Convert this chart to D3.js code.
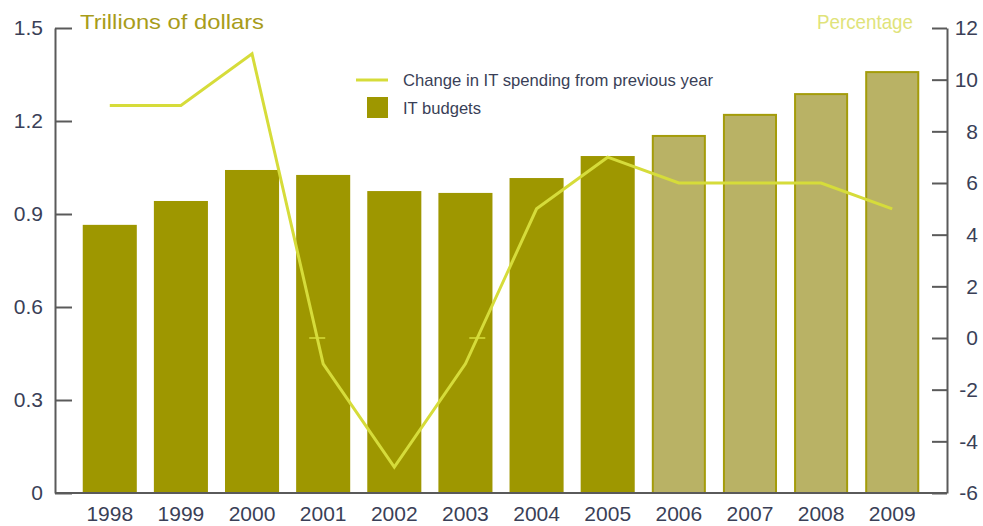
<!DOCTYPE html>
<html><head><meta charset="utf-8">
<script src="https://cdn.jsdelivr.net/npm/d3@7"></script>
<style>body{margin:0;background:#fff}svg{display:block}text{font-family:"Liberation Sans",Arial,sans-serif}</style>
</head><body><svg id="c" width="983" height="526"></svg>
<script>
const years = ["1998","1999","2000","2001","2002","2003","2004","2005","2006","2007","2008","2009"];
const budgets = [0.865,0.942,1.042,1.026,0.974,0.968,1.016,1.087,1.155,1.223,1.29,1.361];
const projected = [false,false,false,false,false,false,false,false,true,true,true,true];
const change = [9,9,11,-1,-5,-1,5,7,6,6,6,5];
const leftTicks = [0,0.3,0.6,0.9,1.2,1.5];
const rightTicks = [-6,-4,-2,0,2,4,6,8,10,12];
const leftTitle = "Trillions of dollars";
const rightTitle = "Percentage";
const legendLabels = ["Change in IT spending from previous year","IT budgets"];

const svg = d3.select("#c");
const L = 55, R = 947, T = 28, B = 493;
const x = d3.scaleBand().domain(years).range([L, R]).paddingInner(0.24).paddingOuter(0.39);
const yL = d3.scaleLinear().domain([0,1.5]).range([B,T]);
const yR = d3.scaleLinear().domain([-6,12]).range([B,T]);

const dark = "#9e9700", light = "#b9b265", edge = "#a49c0a", lineC = "#d6dc3a", axisC = "#5a5a5a", labC = "#3a3f57";

// bars
svg.append("g").selectAll("rect").data(years).join("rect")
  .attr("x", (d,i) => x(d) + (projected[i] ? 1 : 0))
  .attr("width", (d,i) => x.bandwidth() - (projected[i] ? 2 : 0))
  .attr("y", (d,i) => yL(budgets[i]) + (projected[i] ? 1 : 0))
  .attr("height", (d,i) => B - yL(budgets[i]) - (projected[i] ? 1 : 0))
  .attr("fill", (d,i) => projected[i] ? light : dark)
  .attr("stroke", (d,i) => projected[i] ? edge : "none")
  .attr("stroke-width", 2);

// line
const pts = years.map((d,i) => [x(d) + x.bandwidth()/2, yR(change[i])]);
svg.append("path").attr("d", d3.line()(pts)).attr("fill","none")
  .attr("stroke", lineC).attr("stroke-width", 3).attr("stroke-linejoin","miter");

// zero-crossing marks
for (let i = 0; i < change.length - 1; i++) {
  const a = change[i], b = change[i+1];
  if ((a > 0 && b < 0) || (a < 0 && b > 0)) {
    const t = a / (a - b);
    const cx = pts[i][0] + t * (pts[i+1][0] - pts[i][0]);
    svg.append("line").attr("x1", cx - 8).attr("x2", cx + 8)
      .attr("y1", yR(0)).attr("y2", yR(0)).attr("stroke", lineC).attr("stroke-width", 1.5);
  }
}

// axes
const fmtL = d => d === 0 ? "0" : d3.format(".1f")(d);
const gL = svg.append("g").attr("transform", `translate(${L},0)`)
  .call(d3.axisRight(yL).tickValues(leftTicks).tickFormat(fmtL).tickSize(17).tickSizeOuter(0));
gL.selectAll("text").attr("x", -12).attr("text-anchor","end");
const gR = svg.append("g").attr("transform", `translate(${R},0)`)
  .call(d3.axisLeft(yR).tickValues(rightTicks).tickFormat(d => String(d)).tickSize(15).tickSizeOuter(0));
gR.selectAll("text").attr("x", 31).attr("text-anchor","end");
const gB = svg.append("g").attr("transform", `translate(0,${B})`)
  .call(d3.axisBottom(x).tickSize(0).tickSizeOuter(0));
gB.selectAll("text").attr("y", 13).attr("dy", "0.71em");
[gL, gR, gB].forEach(g => {
  g.select(".domain").attr("stroke", axisC).attr("stroke-width", 2);
  g.selectAll(".tick line").attr("stroke", axisC).attr("stroke-width", 2);
  g.selectAll("text").attr("fill", labC).attr("font-size", 21)
    .attr("font-family", '"Liberation Sans",Arial,sans-serif');
});
gB.select(".domain").attr("d", `M${L},0H${R}`);

// titles
svg.append("text").attr("x", 80).attr("y", 29).text(leftTitle)
  .attr("fill", "#a89c1a").attr("font-size", 21).attr("textLength", 184).attr("lengthAdjust","spacingAndGlyphs");
svg.append("text").attr("x", 913).attr("y", 29).attr("text-anchor","end").text(rightTitle)
  .attr("fill", "#e0e37a").attr("font-size", 21).attr("textLength", 96).attr("lengthAdjust","spacingAndGlyphs");

// legend
const lg = svg.append("g");
lg.append("line").attr("x1", 356).attr("x2", 388).attr("y1", 80).attr("y2", 80).attr("stroke", lineC).attr("stroke-width", 3);
lg.append("rect").attr("x", 367).attr("y", 97).attr("width", 21).attr("height", 21).attr("fill", dark);
lg.append("text").attr("x", 403).attr("y", 86).text(legendLabels[0]).attr("fill", labC)
  .attr("font-size", 17).attr("textLength", 310).attr("lengthAdjust","spacingAndGlyphs");
lg.append("text").attr("x", 403).attr("y", 114).text(legendLabels[1]).attr("fill", labC)
  .attr("font-size", 17).attr("textLength", 78).attr("lengthAdjust","spacingAndGlyphs");
</script></body></html>
